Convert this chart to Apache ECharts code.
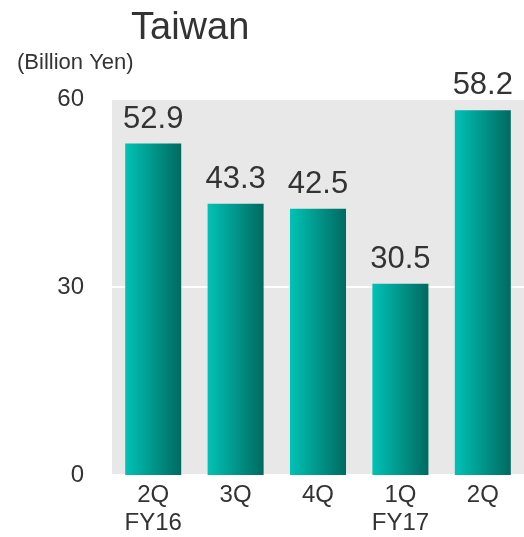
<!DOCTYPE html>
<html>
<head>
<meta charset="utf-8">
<script src="https://cdn.jsdelivr.net/npm/echarts@6/dist/echarts.min.js"></script>
<style>
    html, body { margin: 0; padding: 0; background: #fff; }
    #chart { width: 524px; height: 537px; }
</style>
</head>
<body>
<div id="chart"></div>
<script>
// data
var quarters = ["2Q", "3Q", "4Q", "1Q", "2Q"];
var fiscalYears = ["FY16", "", "", "FY17", ""];
var sales = [52.9, 43.3, 42.5, 30.5, 58.2];
var yTicks = [0, 30, 60];

var categories = quarters.map(function (q, i) {
    return fiscalYears[i] ? q + "\n" + fiscalYears[i] : q;
});

var mychart = echarts.init(document.getElementById("chart"));
var font = "Liberation Sans, Arial, sans-serif";

var option = {
    animation: false,
    title: [
        {
            text: "Taiwan",
            left: 126,
            top: 5,
            textStyle: { color: "#333", fontSize: 38, fontWeight: "normal", fontFamily: font }
        },
        {
            text: "(Billion Yen)",
            left: 12,
            top: 47,
            textStyle: { color: "#333", fontSize: 22, fontWeight: "normal", fontFamily: font }
        }
    ],
    grid: {
        left: 112,
        top: 99,
        width: 418,
        height: 380,
        show: true,
        backgroundColor: "#e8e8e8",
        borderWidth: 0
    },
    xAxis: {
        type: "category",
        data: categories,
        axisLine: { show: false },
        axisTick: { show: false },
        axisLabel: {
            color: "#333",
            fontSize: 24,
            fontFamily: font,
            lineHeight: 28,
            margin: 6
        }
    },
    yAxis: {
        type: "value",
        min: yTicks[0],
        max: yTicks[yTicks.length - 1],
        interval: yTicks[1] - yTicks[0],
        axisLine: { show: false },
        axisTick: { show: false },
        axisLabel: { color: "#333", fontSize: 24, fontFamily: font, margin: 28 },
        splitLine: { lineStyle: { color: "#fff", width: 2 } }
    },
    series: [
        {
            type: "bar",
            data: sales,
            barCategoryGap: "32%",
            itemStyle: {
                color: new echarts.graphic.LinearGradient(0, 0, 1, 0, [
                    { offset: 0, color: "#00c2b5" },
                    { offset: 1, color: "#006a60" }
                ])
            },
            label: {
                show: true,
                position: "top",
                distance: 9,
                color: "#333",
                fontSize: 31,
                fontFamily: font
            }
        }
    ]
};
mychart.setOption(option);
</script>
</body>
</html>
